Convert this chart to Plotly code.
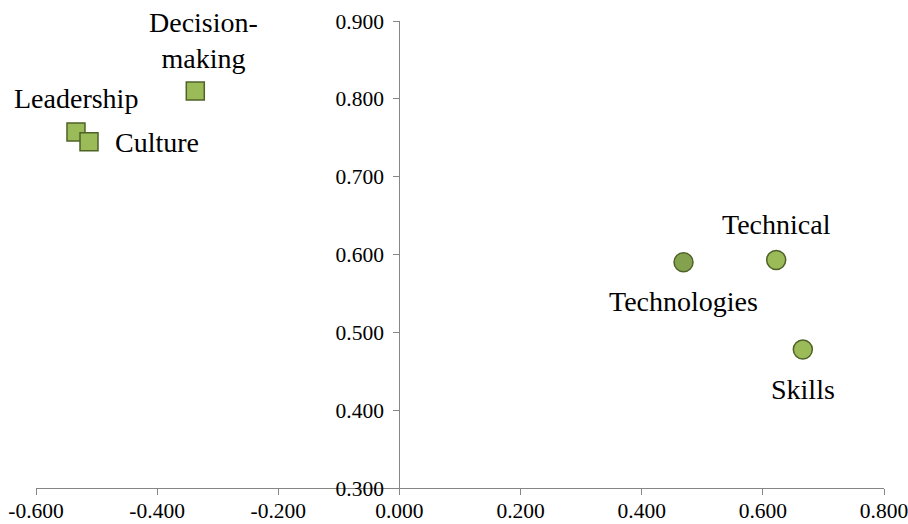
import plotly.graph_objects as go

# Data
sq_labels = ["Decision-making", "Leadership", "Culture"]
sq_x = [-0.337, -0.534, -0.5125]
sq_y = [0.810, 0.7575, 0.745]

ci_labels = ["Technologies", "Technical", "Skills"]
ci_x = [0.469, 0.622, 0.666]
ci_y = [0.590, 0.593, 0.478]

x_ticks = [-0.6, -0.4, -0.2, 0.0, 0.2, 0.4, 0.6, 0.8]
x_ticktext = ["-0.600", "-0.400", "-0.200", "0.000", "0.200", "0.400", "0.600", "0.800"]
y_ticks = [0.3, 0.4, 0.5, 0.6, 0.7, 0.8, 0.9]
y_ticktext = ["0.300", "0.400", "0.500", "0.600", "0.700", "0.800", "0.900"]

LIGHT = "#9BBB59"
DARK = "#84A24E"
EDGE = "#4F6228"
AXIS = "#868686"
FONT = "Times New Roman, Liberation Serif, serif"

fig = go.Figure()
fig.add_trace(go.Scatter(
    x=sq_x, y=sq_y, mode="markers",
    marker=dict(symbol="square", size=18, color=LIGHT, line=dict(color=EDGE, width=1.5)),
    hoverinfo="skip", showlegend=False))
fig.add_trace(go.Scatter(
    x=ci_x, y=ci_y, mode="markers",
    marker=dict(symbol="circle", size=19, color=[DARK, LIGHT, LIGHT], line=dict(color=EDGE, width=1.5)),
    hoverinfo="skip", showlegend=False))

# label placement (pixel offsets) per point
sq_text = ["Decision-<br>making", "Leadership", "Culture"]
sq_off = [(8, 51, "center"), (0, 33, "center"), (24, -1, "left")]
ci_off = [(0, -39, "center"), (0, 35, "center"), (0, -40, "center")]

for lab, x, y, (dx, dy, xa) in zip(sq_text, sq_x, sq_y, sq_off):
    fig.add_annotation(x=x, y=y, text=lab, showarrow=False, xshift=dx, yshift=dy,
                       xanchor=xa, yanchor="middle", font=dict(family=FONT, size=28, color="black"))
for lab, x, y, (dx, dy, xa) in zip(ci_labels, ci_x, ci_y, ci_off):
    fig.add_annotation(x=x, y=y, text=lab, showarrow=False, xshift=dx, yshift=dy,
                       xanchor=xa, yanchor="middle", font=dict(family=FONT, size=28, color="black"))

fig.update_layout(
    width=908, height=524,
    margin=dict(l=36, r=24, t=21, b=36, pad=0),
    paper_bgcolor="white", plot_bgcolor="white",
    font=dict(family=FONT, size=21.5, color="black"),
    xaxis=dict(range=[-0.6, 0.8], tickvals=x_ticks, ticktext=x_ticktext,
               showgrid=False, zeroline=False, showline=True, linecolor=AXIS, linewidth=1.3,
               ticks="outside", ticklen=6, tickcolor=AXIS, tickwidth=1.3,
               ticklabeloverflow="allow", ticklabelstandoff=-3,
               domain=[0, 1], fixedrange=True, automargin=False),
    yaxis=dict(range=[0.3, 0.9], tickvals=y_ticks, ticktext=y_ticktext,
               showgrid=False, zeroline=False, showline=True, linecolor=AXIS, linewidth=1.3,
               ticks="outside", ticklen=6, tickcolor=AXIS, tickwidth=1.3,
               ticklabeloverflow="allow", ticklabelstandoff=5,
               anchor="free", position=0.6 / 1.4, fixedrange=True, automargin=False),
)

fig.write_html("out.html", config={"displayModeBar": False},
               post_script="document.body.style.margin='0';")
